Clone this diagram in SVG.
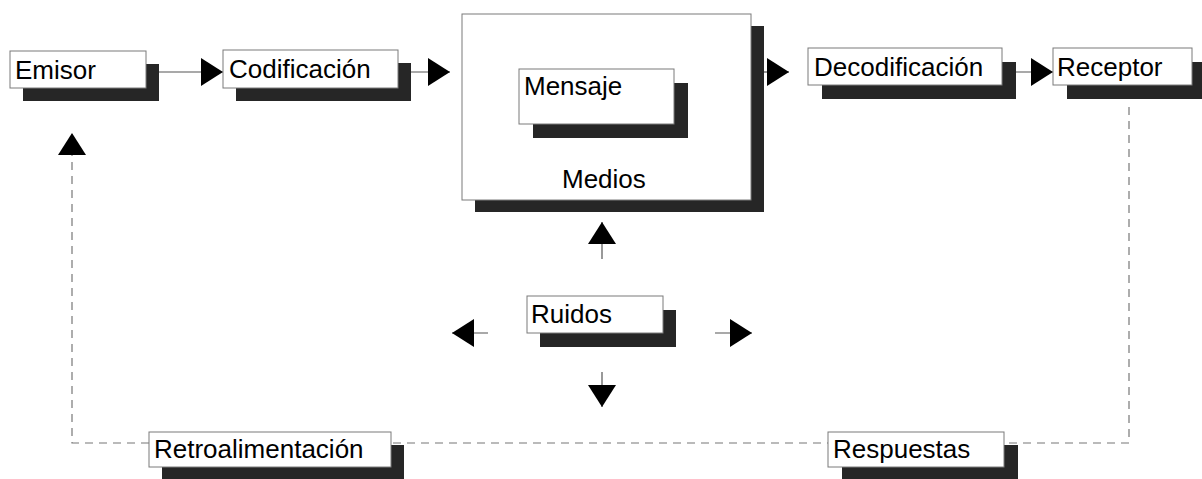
<svg xmlns="http://www.w3.org/2000/svg" width="1202" height="479" viewBox="0 0 1202 479">
  <style>
    .box { fill: #ffffff; stroke: #7a7a7a; stroke-width: 1; }
    .shadow { fill: #262626; }
    .label { font-family: "Liberation Sans", Arial, sans-serif; font-size: 26px; fill: #000000; }
    .flow { fill: none; stroke: #555555; stroke-width: 1.2; }
    .feedback { fill: none; stroke: #777777; stroke-width: 1.2; stroke-dasharray: 8 6; }
  </style>
  <defs>
    <marker id="head" markerUnits="userSpaceOnUse" markerWidth="22" markerHeight="28" refX="22" refY="14" orient="auto">
      <path d="M0,0 L22,14 L0,28 Z" fill="#000000"/>
    </marker>
  </defs>

  <rect width="1202" height="479" fill="#ffffff"/>

  <!-- connectors -->
  <g id="connectors">
    <line class="flow" x1="159" y1="72" x2="223" y2="72" marker-end="url(#head)"/>
    <line class="flow" x1="411" y1="72" x2="450" y2="72" marker-end="url(#head)"/>
    <line class="flow" x1="764" y1="72" x2="789" y2="72" marker-end="url(#head)"/>
    <line class="flow" x1="1016" y1="72" x2="1053" y2="72" marker-end="url(#head)"/>
    <!-- noise spreading in four directions -->
    <line class="flow" x1="602" y1="259" x2="602" y2="222" marker-end="url(#head)"/>
    <line class="flow" x1="488" y1="333" x2="452" y2="333" marker-end="url(#head)"/>
    <line class="flow" x1="715" y1="333" x2="752" y2="333" marker-end="url(#head)"/>
    <line class="flow" x1="602" y1="372" x2="602" y2="407" marker-end="url(#head)"/>
    <!-- feedback loop from receiver back to sender -->
    <path class="feedback" d="M1129,107 V443 H72 V133" marker-end="url(#head)"/>
  </g>

  <g id="emisor">
    <rect class="shadow" x="23" y="64" width="136" height="37"/>
    <rect class="box" x="10" y="51" width="136" height="37"/>
    <text class="label" x="15" y="79">Emisor</text>
  </g>

  <g id="codificacion">
    <rect class="shadow" x="236" y="63" width="175" height="38"/>
    <rect class="box" x="223" y="50" width="175" height="38"/>
    <text class="label" x="229" y="78">Codificación</text>
  </g>

  <g id="medios">
    <rect class="shadow" x="475" y="26" width="289" height="186"/>
    <rect class="box" x="462" y="14" width="289" height="186"/>
    <text class="label" x="562" y="188">Medios</text>
  </g>

  <g id="mensaje">
    <rect class="shadow" x="533" y="83" width="155" height="55"/>
    <rect class="box" x="519" y="69" width="155" height="55"/>
    <text class="label" x="524" y="95">Mensaje</text>
  </g>

  <g id="decodificacion">
    <rect class="shadow" x="822" y="62" width="194" height="37"/>
    <rect class="box" x="808" y="48" width="194" height="37"/>
    <text class="label" x="814" y="76">Decodificación</text>
  </g>

  <g id="receptor">
    <rect class="shadow" x="1067" y="62" width="139" height="37"/>
    <rect class="box" x="1053" y="48" width="139" height="37"/>
    <text class="label" x="1057" y="76">Receptor</text>
  </g>

  <g id="ruidos">
    <rect class="shadow" x="540" y="310" width="136" height="37"/>
    <rect class="box" x="527" y="296" width="136" height="37"/>
    <text class="label" x="531" y="323">Ruidos</text>
  </g>

  <g id="retroalimentacion">
    <rect class="shadow" x="162" y="445" width="242" height="35"/>
    <rect class="box" x="149" y="432" width="242" height="35"/>
    <text class="label" x="154" y="458">Retroalimentación</text>
  </g>

  <g id="respuestas">
    <rect class="shadow" x="842" y="445" width="176" height="35"/>
    <rect class="box" x="828" y="432" width="176" height="35"/>
    <text class="label" x="833" y="458">Respuestas</text>
  </g>
</svg>
